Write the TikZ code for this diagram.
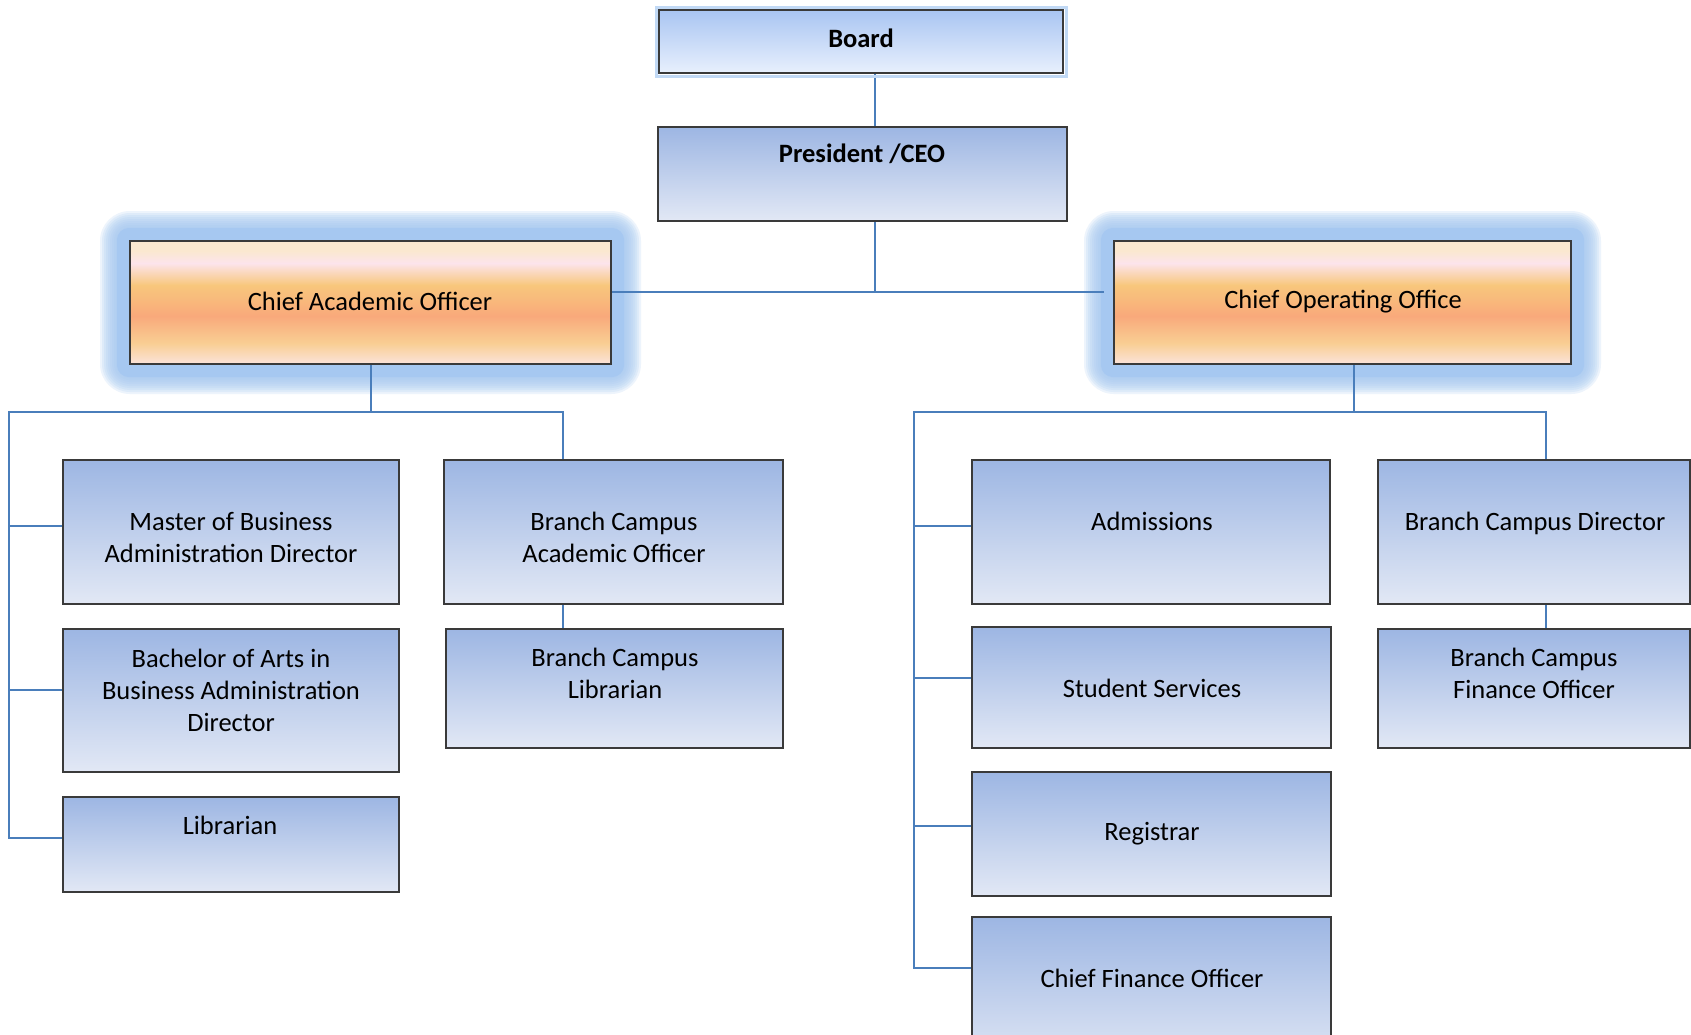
\documentclass[tikz,border=0pt]{standalone}
\usepackage{fontspec}
\setmainfont{Carlito}
\definecolor{connc}{HTML}{4A7EBB}
\definecolor{edgec}{HTML}{3A3A3A}
\definecolor{bTop}{HTML}{9DB6E3}
\definecolor{bBot}{HTML}{E2E8F5}
\definecolor{bdTop}{HTML}{A9C5F2}
\definecolor{bdBot}{HTML}{E8F0FD}
\definecolor{glowc}{HTML}{A6C8F1}
\definecolor{oT}{HTML}{FBE8D0}
\definecolor{oP}{HTML}{FCE4EC}
\definecolor{oY}{HTML}{F8C77C}
\definecolor{oS}{HTML}{F9A97B}
\definecolor{oY2}{HTML}{F9CE93}
\definecolor{oB}{HTML}{FBE3DA}
\pgfdeclareverticalshading{orangeband}{100bp}{color(0bp)=(oB); color(25bp)=(oB); color(33.5bp)=(oY2); color(44.5bp)=(oS); color(57bp)=(oY); color(66bp)=(oP); color(71bp)=(oT); color(75bp)=(oT); color(100bp)=(oT)}
\pgfdeclarelayer{glowlayer}
\pgfdeclarelayer{connlayer}
\pgfsetlayers{glowlayer,connlayer,main}
\tikzset{
  basebox/.style={draw=edgec, line width=1.8pt, inner sep=0pt, outer sep=0pt},
  bluebox/.style={basebox, top color=bTop, bottom color=bBot},
  boardbox/.style={basebox, top color=bdTop, bottom color=bdBot},
  orangebox/.style={basebox, shading=orangeband},
  conn/.style={draw=connc, line width=2pt},
  txt/.style={font=\fontsize{26.5}{32}\selectfont, align=center, inner sep=0pt, text=black},
  btxt/.style={txt, font=\fontsize{26.5}{32}\selectfont\bfseries},
}
\newcommand{\mkbox}[6]{\node[#6, minimum width={(#4-#2)*1pt}, minimum height={(#5-#3)*1pt}] (#1) at ({(#2+#4)/2},{(#3+#5)/2}) {};}
\newcommand{\glowaround}[1]{%
  \fill[glowc, rounded corners=12pt] ([shift={(-13pt,13pt)}]#1.north west) rectangle ([shift={(13pt,-13pt)}]#1.south east);
  \foreach \d in {30,28,...,14} {\fill[glowc, opacity=0.2, rounded corners=\d pt] ([shift={(-\d pt,\d pt)}]#1.north west) rectangle ([shift={(\d pt,-\d pt)}]#1.south east);}
}
\begin{document}
\begin{tikzpicture}[x=1pt,y=-1pt]
\useasboundingbox (0,0) rectangle (1691,1034);
\clip (0,0) rectangle (1691,1034);
% boxes
\draw[draw=glowc!70, line width=3pt] (656,7) rectangle (1066,76);
\mkbox{board}{659}{10}{1063}{73}{boardbox}
\mkbox{pres}{658}{127}{1067}{221}{bluebox}
\mkbox{cao}{130}{241}{611}{364}{orangebox}
\mkbox{coo}{1114}{241}{1571}{364}{orangebox}
\mkbox{mba}{63}{460}{399}{604}{bluebox}
\mkbox{ba}{63}{629}{399}{772}{bluebox}
\mkbox{lib}{63}{797}{399}{892}{bluebox}
\mkbox{bcao}{444}{460}{783}{604}{bluebox}
\mkbox{bclib}{446}{629}{783}{748}{bluebox}
\mkbox{adm}{972}{460}{1330}{604}{bluebox}
\mkbox{ss}{972}{627}{1331}{748}{bluebox}
\mkbox{reg}{972}{772}{1331}{896}{bluebox}
\mkbox{cfo}{972}{917}{1331}{1070}{bluebox}
\mkbox{bcd}{1378}{460}{1690}{604}{bluebox}
\mkbox{bcfo}{1378}{629}{1690}{748}{bluebox}
% glows
\begin{pgfonlayer}{glowlayer}
\fill[white] (0,0) rectangle (1691,1034);
\glowaround{cao}
\glowaround{coo}
\end{pgfonlayer}
% connectors
\begin{pgfonlayer}{connlayer}
\coordinate (j0) at (875,292);
\coordinate (lb) at (9,412);
\coordinate (lbr) at (563,412);
\coordinate (rb) at (914,412);
\coordinate (rbr) at (1546,412);
\draw[conn] ([xshift=14pt]board.south) -- ([xshift=14pt]board.south |- pres.north);
\draw[conn] (pres.south -| j0) -- (j0);
\draw[conn] (cao.east |- j0) -- ([xshift=-10pt]coo.west |- j0);
\draw[conn] (cao.south) -- (cao.south |- lb);
\draw[conn] ([yshift=6.5pt]lib.west) -| (lb) -- (lbr) -- (lbr |- bcao.north);
\draw[conn] (lb |- mba.west) ++(0,-6) -- ([yshift=6pt]mba.west);
\draw[conn] (lb |- ba.west) ++(0,-10.5) -- ([yshift=10.5pt]ba.west);
\draw[conn] (lbr |- bcao.south) -- (lbr |- bclib.north);
\draw[conn] ([xshift=11.5pt]coo.south) -- ([xshift=11.5pt]coo.south |- rb);
\draw[conn] ([yshift=25.5pt]cfo.west) -| (rb) -- (rbr) -- (rbr |- bcd.north);
\draw[conn] (rb |- adm.west) ++(0,-6) -- ([yshift=6pt]adm.west);
\draw[conn] (rb |- ss.west) ++(0,-9.5) -- ([yshift=9.5pt]ss.west);
\draw[conn] (rb |- reg.west) ++(0,-8) -- ([yshift=8pt]reg.west);
\draw[conn] (rbr |- bcd.south) -- (rbr |- bcfo.north);
\end{pgfonlayer}
% texts
\node[btxt] (t-board) at (861,38) {Board};
\node[btxt] (t-pres) at (862,154) {President /CEO};
\node[txt] (t-cao) at (370,301) {Chief Academic Officer};
\node[txt] (t-coo) at (1343,302) {Chief Operating Office};
\node[txt] (t-mba) at (231,537) {Master of Business\\Administration Director};
\node[txt] (t-bcao) at (614,537) {Branch Campus\\Academic Officer};
\node[txt] (t-ba) at (231,690) {Bachelor of Arts in\\Business Administration\\Director};
\node[txt] (t-lib) at (230,825) {Librarian};
\node[txt] (t-bclib) at (615,673) {Branch Campus\\Librarian};
\node[txt] (t-adm) at (1152,521) {Admissions};
\node[txt] (t-ss) at (1152,688) {Student Services};
\node[txt] (t-reg) at (1152,834) {Registrar};
\node[txt] (t-cfo) at (1152,978) {Chief Finance Officer};
\node[txt] (t-bcd) at (1535,523) {Branch Campus Director};
\node[txt] (t-bcfo) at (1534,673) {Branch Campus\\Finance Officer};
\end{tikzpicture}
\end{document}
